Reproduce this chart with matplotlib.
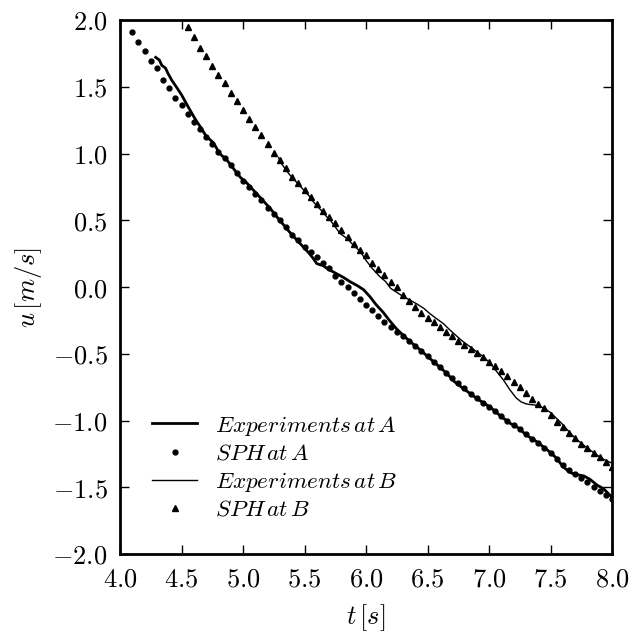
import numpy as np
import matplotlib
matplotlib.use("Agg")
import matplotlib.pyplot as plt
from matplotlib.ticker import FuncFormatter, MultipleLocator

plt.rcParams['mathtext.fontset'] = 'cm'
plt.rcParams['font.family'] = ['DejaVu Serif']

# --- Experiments at A (thick line) ---
exp_a_t = [4.29, 4.32, 4.34, 4.37, 4.39, 4.42, 4.45, 4.50, 4.56, 4.61, 4.66, 4.70, 4.76, 4.81,
           4.87, 4.92, 4.98, 5.03, 5.08, 5.11, 5.17, 5.22, 5.28, 5.33, 5.38, 5.44, 5.49, 5.54,
           5.57, 5.60, 5.65, 5.70, 5.76, 5.82, 5.87, 5.93, 5.98, 6.03, 6.08, 6.14, 6.19, 6.25,
           6.30, 6.36, 6.44, 6.50, 6.55, 6.60, 6.66, 6.72, 6.79, 6.85, 6.90, 6.95, 7.01, 7.06,
           7.12, 7.17, 7.23, 7.28, 7.33, 7.39, 7.44, 7.50, 7.55, 7.60, 7.66, 7.71, 7.77, 7.82,
           7.88, 7.93, 8.00]
exp_a_u = [1.72, 1.70, 1.66, 1.64, 1.60, 1.55, 1.51, 1.44, 1.34, 1.26, 1.19, 1.13, 1.08, 1.00,
           0.95, 0.89, 0.82, 0.78, 0.73, 0.70, 0.64, 0.59, 0.52, 0.465, 0.41, 0.35, 0.30, 0.25,
           0.215, 0.175, 0.16, 0.13, 0.10, 0.07, 0.04, 0.01, -0.02, -0.07, -0.13, -0.19, -0.25, -0.315,
           -0.36, -0.41, -0.47, -0.52, -0.56, -0.60, -0.65, -0.71, -0.76, -0.80, -0.835, -0.865, -0.90, -0.94,
           -0.985, -1.02, -1.05, -1.09, -1.125, -1.16, -1.196, -1.24, -1.283, -1.345, -1.39, -1.405, -1.415, -1.44,
           -1.485, -1.51, -1.575]

# --- SPH at A (dots) ---
sph_a_t = [round(4.10 + 0.05 * i, 2) for i in range(79)]
sph_a_u = [1.913, 1.835, 1.770, 1.690, 1.638, 1.551, 1.488, 1.416, 1.361, 1.293,
           1.236, 1.181, 1.126, 1.069, 1.014, 0.966, 0.912, 0.852, 0.795, 0.750,
           0.700, 0.652, 0.592, 0.547, 0.502, 0.452, 0.392, 0.352, 0.302, 0.265,
           0.225, 0.182, 0.140, 0.080, 0.040, 0.002, -0.048, -0.092, -0.135, -0.172,
           -0.217, -0.260, -0.302, -0.340, -0.370, -0.405, -0.443, -0.482, -0.520, -0.560,
           -0.600, -0.642, -0.682, -0.720, -0.760, -0.800, -0.835, -0.870, -0.900, -0.932,
           -0.965, -1.000, -1.035, -1.065, -1.100, -1.135, -1.170, -1.205, -1.245, -1.285,
           -1.330, -1.370, -1.400, -1.430, -1.462, -1.495, -1.528, -1.560, -1.590]

# --- Experiments at B (thin line) ---
exp_b_t = [5.29, 5.30, 5.34, 5.38, 5.42, 5.46, 5.50, 5.54, 5.57, 5.63, 5.68, 5.71, 5.75, 5.79,
           5.85, 5.90, 5.95, 6.00, 6.05, 6.11, 6.16, 6.20, 6.25, 6.30, 6.36, 6.41, 6.47, 6.52,
           6.57, 6.63, 6.68, 6.74, 6.79, 6.85, 6.90, 6.95, 7.01, 7.06, 7.12, 7.17, 7.22, 7.26,
           7.30, 7.33, 7.38, 7.44, 7.50, 7.55, 7.60, 7.66, 7.71, 7.77, 7.82, 7.88, 7.93, 8.00]
exp_b_u = [0.97, 0.94, 0.89, 0.84, 0.80, 0.76, 0.72, 0.68, 0.64, 0.58, 0.527, 0.50, 0.45, 0.40,
           0.36, 0.31, 0.27, 0.20, 0.14, 0.08, 0.04, -0.01, -0.04, -0.07, -0.10, -0.125, -0.16, -0.20,
           -0.235, -0.275, -0.32, -0.37, -0.41, -0.45, -0.485, -0.52, -0.57, -0.63, -0.70, -0.77, -0.83, -0.86,
           -0.875, -0.88, -0.885, -0.905, -0.94, -0.985, -1.03, -1.095, -1.14, -1.185, -1.22, -1.26, -1.29, -1.32]

# --- SPH at B (triangles) ---
sph_b_t = [round(4.55 + 0.05 * i, 2) for i in range(70)]
sph_b_u = [1.950, 1.870, 1.790, 1.730, 1.655, 1.590, 1.526, 1.456, 1.390, 1.326,
           1.256, 1.198, 1.136, 1.068, 1.006, 0.951, 0.889, 0.827, 0.782, 0.727,
           0.672, 0.618, 0.573, 0.527, 0.477, 0.427, 0.377, 0.325, 0.280, 0.236,
           0.180, 0.133, 0.090, 0.040, -0.002, -0.060, -0.102, -0.147, -0.195, -0.230,
           -0.265, -0.300, -0.335, -0.370, -0.402, -0.435, -0.467, -0.497, -0.527, -0.559,
           -0.592, -0.627, -0.667, -0.709, -0.752, -0.797, -0.842, -0.877, -0.909, -0.959,
           -1.009, -1.051, -1.096, -1.133, -1.176, -1.208, -1.241, -1.276, -1.308, -1.346]

labels = [r'$Experiments\,at\,A$', r'$SPH\,at\,A$', r'$Experiments\,at\,B$', r'$SPH\,at\,B$']

fig = plt.figure(figsize=(6.34, 6.36), dpi=100)
ax = fig.add_axes([120/634, 1 - 554/636, 492/634, 534/636])

ax.plot(exp_a_t, exp_a_u, color='black', lw=2.0, label=labels[0])
ax.plot(sph_a_t, sph_a_u, linestyle='none', marker='o', ms=3.5, color='black', label=labels[1])
ax.plot(exp_b_t, exp_b_u, color='black', lw=1.0, label=labels[2])
ax.plot(sph_b_t, sph_b_u, linestyle='none', marker='^', ms=4.8, color='black', label=labels[3])

ax.set_xlim(4.0, 8.0)
ax.set_ylim(-2.0, 2.0)
ax.xaxis.set_major_locator(MultipleLocator(0.5))
ax.yaxis.set_major_locator(MultipleLocator(0.5))
fmt = FuncFormatter(lambda v, p: r'$%.1f$' % v)
ax.xaxis.set_major_formatter(fmt)
ax.yaxis.set_major_formatter(fmt)
ax.tick_params(which='major', direction='in', top=True, right=True, length=6.5, width=1,
               labelsize=19, pad=9)
for s in ax.spines.values():
    s.set_linewidth(2.0)

ax.set_xlabel(r'$t\,[s]$', fontsize=19, labelpad=8)
ax.set_ylabel(r'$u\,[m/s]$', fontsize=19, labelpad=6)

leg = ax.legend(loc='lower left', frameon=False, fontsize=16.7, numpoints=1,
                handlelength=1.95, handletextpad=0.75, labelspacing=0.22,
                borderpad=0.0, bbox_to_anchor=(0.065, 0.062), borderaxespad=0.0)

fig.savefig('out.png', dpi=100)
